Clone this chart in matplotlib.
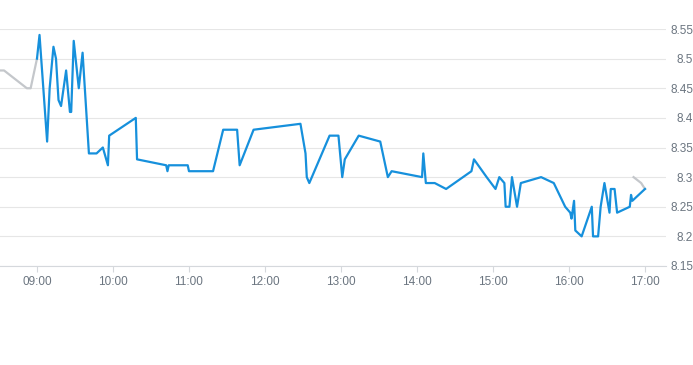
import matplotlib.pyplot as plt

# intraday price, times as HH:MM
pre_times = ["08:31", "08:34", "08:52", "08:55", "09:00"]
pre_values = [8.48, 8.48, 8.45, 8.45, 8.50]

times = ["09:00", "09:02", "09:08", "09:10", "09:13", "09:15", "09:17", "09:19",
         "09:23", "09:26", "09:27", "09:29", "09:33", "09:36", "09:41", "09:47",
         "09:52", "09:56", "09:57", "10:18", "10:19", "10:42", "10:43", "10:44",
         "10:59", "11:00", "11:19", "11:27", "11:38", "11:40", "11:51", "12:28",
         "12:32", "12:33", "12:35", "12:51", "12:58", "13:01", "13:03", "13:14",
         "13:31", "13:37", "13:40", "14:04", "14:05", "14:07", "14:14", "14:23",
         "14:43", "14:45", "14:55", "15:02", "15:05", "15:09", "15:10", "15:13",
         "15:15", "15:19", "15:22", "15:38", "15:48", "15:57", "16:01", "16:02",
         "16:04", "16:05", "16:10", "16:18", "16:19", "16:23", "16:25", "16:28",
         "16:32", "16:33", "16:36", "16:38", "16:48", "16:49", "16:50", "17:00"]
values = [8.50, 8.54, 8.36, 8.45, 8.52, 8.50, 8.43, 8.42,
          8.48, 8.41, 8.41, 8.53, 8.45, 8.51, 8.34, 8.34,
          8.35, 8.32, 8.37, 8.40, 8.33, 8.32, 8.31, 8.32,
          8.32, 8.31, 8.31, 8.38, 8.38, 8.32, 8.38, 8.39,
          8.34, 8.30, 8.29, 8.37, 8.37, 8.30, 8.33, 8.37,
          8.36, 8.30, 8.31, 8.30, 8.34, 8.29, 8.29, 8.28,
          8.31, 8.33, 8.30, 8.28, 8.30, 8.29, 8.25, 8.25,
          8.30, 8.25, 8.29, 8.30, 8.29, 8.25, 8.24, 8.23,
          8.26, 8.21, 8.20, 8.25, 8.20, 8.20, 8.25, 8.29,
          8.24, 8.28, 8.28, 8.24, 8.25, 8.27, 8.26, 8.28]

post_times = ["16:51", "16:57", "17:00"]
post_values = [8.30, 8.29, 8.28]

xtick_labels = ["09:00", "10:00", "11:00", "12:00", "13:00", "14:00", "15:00", "16:00", "17:00"]
yticks = [8.15, 8.2, 8.25, 8.3, 8.35, 8.4, 8.45, 8.5, 8.55]


def to_min(t):
    h, m = t.split(":")
    return (int(h) - 9) * 60 + int(m)


plt.rcParams['font.family'] = ['Liberation Sans', 'DejaVu Sans']

fig = plt.figure(figsize=(6.93, 3.65), dpi=100)
ax = fig.add_axes([0, 1 - 266 / 365, 666 / 693, (266 - 29) / 365])

ax.plot([to_min(t) for t in pre_times], pre_values, color='#c4c7cb', lw=1.6, clip_on=False)
ax.plot([to_min(t) for t in post_times], post_values, color='#c4c7cb', lw=1.6, clip_on=False)
ax.plot([to_min(t) for t in times], values, color='#1690dc', lw=1.6, clip_on=False)

ax.set_xlim(-29.2, 496.6)
ax.set_ylim(8.15, 8.55)
ax.set_xticks([to_min(t) for t in xtick_labels])
ax.set_xticklabels(xtick_labels)
ax.set_yticks(yticks)
ax.set_yticklabels([("%.2f" % v).rstrip('0') for v in yticks])

ax.yaxis.tick_right()
ax.tick_params(axis='y', length=0, pad=19.5, labelsize=8.5, labelcolor='#6b7580')
for lab in ax.get_yticklabels():
    lab.set_ha('right')
ax.tick_params(axis='x', length=4, width=0.8, color='#d5d8dc', pad=3,
               labelsize=8.5, labelcolor='#6b7580')

ax.grid(axis='y', color='#e6e6e6', lw=0.8)
ax.set_axisbelow(True)
for s in ['top', 'left', 'right']:
    ax.spines[s].set_visible(False)
ax.spines['bottom'].set_color('#d5d8dc')
ax.spines['bottom'].set_linewidth(0.8)

fig.savefig('out.png', dpi=100)
